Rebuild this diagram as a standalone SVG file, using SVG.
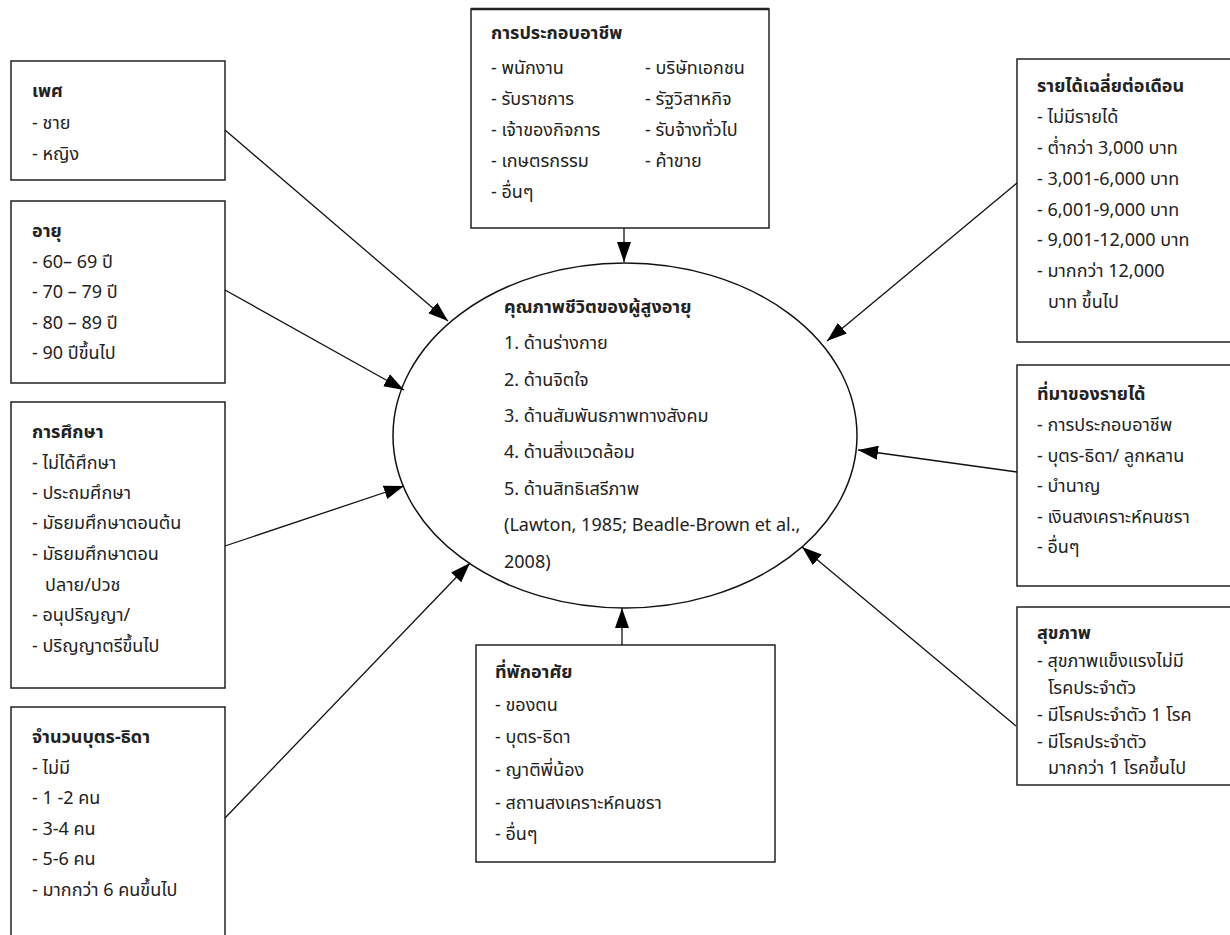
<svg xmlns="http://www.w3.org/2000/svg" width="1230" height="935" viewBox="0 0 1230 935">
<style>
text{font-family:"Noto Sans","Noto Sans Thai",sans-serif;font-size:18px;fill:#222}
.t{font-weight:bold}
.box{fill:#fff;stroke:#222;stroke-width:1.5}
.con line{stroke:#111;stroke-width:1.3;marker-end:url(#ah)}
</style>
<defs>
<marker id="ah" markerUnits="userSpaceOnUse" markerWidth="20" markerHeight="14" refX="20" refY="7" orient="auto">
<path d="M0,0 L20,7 L0,14 z" fill="#000"/>
</marker>
</defs>
<rect width="1230" height="935" fill="#fff"/>
<g id="center">
<ellipse cx="625" cy="435.5" rx="232" ry="172.5" fill="#fff" stroke="#111" stroke-width="1.5"/>
<text x="504" y="313" class="t">คุณภาพชีวิตของผู้สูงอายุ</text>
<text x="504" y="349">1. ด้านร่างกาย</text>
<text x="504" y="386">2. ด้านจิตใจ</text>
<text x="504" y="422">3. ด้านสัมพันธภาพทางสังคม</text>
<text x="504" y="458">4. ด้านสิ่งแวดล้อม</text>
<text x="504" y="495">5. ด้านสิทธิเสรีภาพ</text>
<text x="504" y="531">(Lawton, 1985; Beadle-Brown et al.,</text>
<text x="504" y="568">2008)</text>
</g>
<g id="sex">
<rect class="box" x="11" y="61" width="214" height="119"/>
<text x="32" y="97" class="t">เพศ</text>
<text x="32" y="129">- ชาย</text>
<text x="32" y="160">- หญิง</text>
</g>
<g id="age">
<rect class="box" x="11" y="201" width="214" height="182"/>
<text x="32" y="237" class="t">อายุ</text>
<text x="32" y="268">- 60– 69 ปี</text>
<text x="32" y="298">- 70 – 79 ปี</text>
<text x="32" y="329">- 80 – 89 ปี</text>
<text x="32" y="359">- 90 ปีขึ้นไป</text>
</g>
<g id="education">
<rect class="box" x="11" y="402" width="214" height="286"/>
<text x="32" y="438" class="t">การศึกษา</text>
<text x="32" y="469">- ไม่ได้ศึกษา</text>
<text x="32" y="499">- ประถมศึกษา</text>
<text x="32" y="529">- มัธยมศึกษาตอนต้น</text>
<text x="32" y="560">- มัธยมศึกษาตอน</text>
<text x="45" y="591">ปลาย/ปวช</text>
<text x="32" y="621">- อนุปริญญา/</text>
<text x="32" y="652">- ปริญญาตรีขึ้นไป</text>
</g>
<g id="children">
<rect class="box" x="11" y="707" width="214" height="240"/>
<text x="32" y="743" class="t">จำนวนบุตร-ธิดา</text>
<text x="32" y="774">- ไม่มี</text>
<text x="32" y="804">- 1 -2 คน</text>
<text x="32" y="835">- 3-4 คน</text>
<text x="32" y="865">- 5-6 คน</text>
<text x="32" y="896">- มากกว่า 6 คนขึ้นไป</text>
</g>
<g id="occupation">
<rect class="box" x="471" y="9" width="298" height="219"/>
<line x1="471" y1="9" x2="769" y2="9" stroke="#222" stroke-width="2.5"/>
<text x="491" y="39" class="t">การประกอบอาชีพ</text>
<text x="491" y="74">- พนักงาน</text>
<text x="491" y="105">- รับราชการ</text>
<text x="491" y="136">- เจ้าของกิจการ</text>
<text x="491" y="167">- เกษตรกรรม</text>
<text x="491" y="198">- อื่นๆ</text>
<text x="645" y="74">- บริษัทเอกชน</text>
<text x="645" y="105">- รัฐวิสาหกิจ</text>
<text x="645" y="136">- รับจ้างทั่วไป</text>
<text x="645" y="167">- ค้าขาย</text>
</g>
<g id="income">
<rect class="box" x="1017" y="59" width="220" height="283"/>
<text x="1037" y="92" class="t">รายได้เฉลี่ยต่อเดือน</text>
<text x="1037" y="123">- ไม่มีรายได้</text>
<text x="1037" y="154">- ต่ำกว่า 3,000 บาท</text>
<text x="1037" y="185">- 3,001-6,000 บาท</text>
<text x="1037" y="216">- 6,001-9,000 บาท</text>
<text x="1037" y="246">- 9,001-12,000 บาท</text>
<text x="1037" y="277">- มากกว่า 12,000</text>
<text x="1048" y="308">บาท ขึ้นไป</text>
</g>
<g id="income-source">
<rect class="box" x="1017" y="365" width="220" height="221"/>
<text x="1037" y="400" class="t">ที่มาของรายได้</text>
<text x="1037" y="431">- การประกอบอาชีพ</text>
<text x="1037" y="462">- บุตร-ธิดา/ ลูกหลาน</text>
<text x="1037" y="492">- บำนาญ</text>
<text x="1037" y="523">- เงินสงเคราะห์คนชรา</text>
<text x="1037" y="553">- อื่นๆ</text>
</g>
<g id="health">
<rect class="box" x="1017" y="607" width="220" height="178"/>
<text x="1037" y="639" class="t">สุขภาพ</text>
<text x="1037" y="667">- สุขภาพแข็งแรงไม่มี</text>
<text x="1048" y="694">โรคประจำตัว</text>
<text x="1037" y="721">- มีโรคประจำตัว 1 โรค</text>
<text x="1037" y="748">- มีโรคประจำตัว</text>
<text x="1048" y="774">มากกว่า 1 โรคขึ้นไป</text>
</g>
<g id="residence">
<rect class="box" x="476" y="645" width="299" height="217"/>
<text x="495" y="678" class="t">ที่พักอาศัย</text>
<text x="495" y="711">- ของตน</text>
<text x="495" y="743">- บุตร-ธิดา</text>
<text x="495" y="776">- ญาติพี่น้อง</text>
<text x="495" y="809">- สถานสงเคราะห์คนชรา</text>
<text x="495" y="840">- อื่นๆ</text>
</g>
<g id="connectors" class="con">
<line x1="225" y1="130" x2="448" y2="321"/>
<line x1="225" y1="290" x2="404" y2="390"/>
<line x1="225" y1="546" x2="404" y2="486"/>
<line x1="225" y1="818" x2="470" y2="563"/>
<line x1="624" y1="228" x2="624" y2="262"/>
<line x1="1017" y1="183" x2="827" y2="341"/>
<line x1="1017" y1="472" x2="858" y2="450"/>
<line x1="1016" y1="726" x2="802" y2="547"/>
<line x1="622" y1="645" x2="622" y2="608"/>
</g>
</svg>
